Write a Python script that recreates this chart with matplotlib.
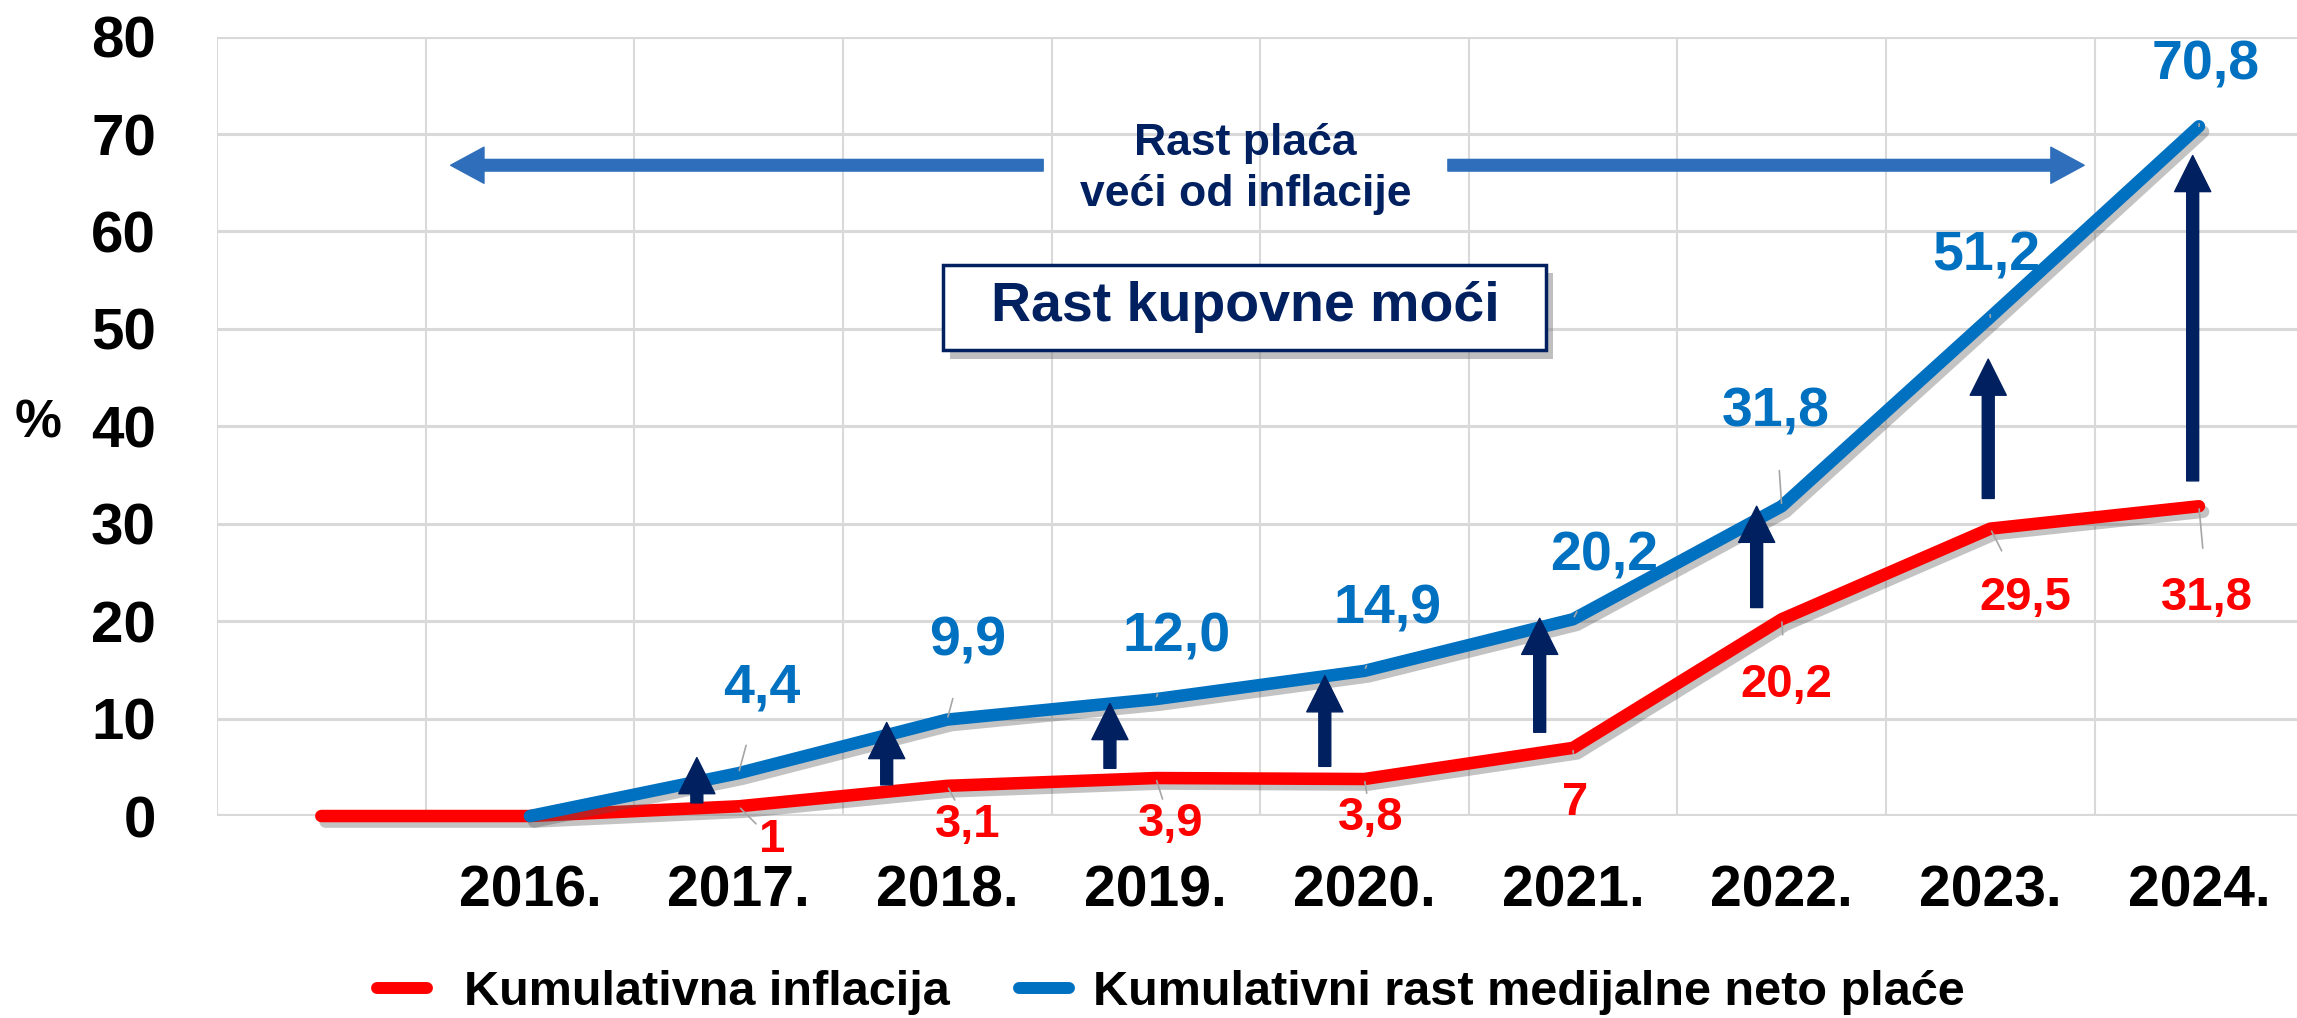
import numpy as np
import matplotlib
matplotlib.use('Agg')
import matplotlib.pyplot as plt
from matplotlib import font_manager
from matplotlib.lines import Line2D
from matplotlib.patches import Rectangle
import matplotlib.patheffects as pe

# pick a condensed bold font if we have one
names = {f.name for f in font_manager.fontManager.ttflist}
FONT = 'Liberation Sans Narrow' if 'Liberation Sans Narrow' in names else 'Liberation Sans'
plt.rcParams['font.family'] = [FONT, 'DejaVu Sans']
plt.rcParams['font.weight'] = 'bold'

# podaci
categories = ['', '2016.', '2017.', '2018.', '2019.', '2020.', '2021.', '2022.', '2023.', '2024.']
inflation = [0, 0, 1, 3.1, 3.9, 3.8, 7, 20.2, 29.5, 31.8]
wages = [np.nan, 0, 4.4, 9.9, 12.0, 14.9, 20.2, 31.8, 51.2, 70.8]
series_names = ['Kumulativna inflacija', 'Kumulativni rast medijalne neto plaće']

RED = '#FF0000'
BLUE = '#0070C0'
NAVY = '#002060'
GRID = '#D9D9D9'

# label placement (category units, value units)
wage_lbl_pos = {2: (2.11, 13.1), 3: (3.10, 17.9), 4: (4.10, 18.3), 5: (5.11, 21.2),
                6: (6.15, 26.6), 7: (6.97, 41.4), 8: (7.98, 57.4), 9: (9.03, 77.0)}
infl_lbl_pos = {2: (2.16, -2.45), 3: (3.10, -0.9), 4: (4.07, -0.8), 5: (5.03, -0.2),
                6: (6.01, 1.35), 7: (7.02, 13.5), 8: (8.17, 22.4), 9: (9.04, 22.4)}
# purchasing power arrows: x, from, to
up_arrows = [(1.80, 1.35, 6.0), (2.71, 3.2, 9.6), (3.78, 4.9, 11.55), (4.81, 5.1, 14.4),
             (5.84, 8.6, 20.3), (6.88, 21.4, 31.8), (7.99, 32.6, 46.9), (8.97, 34.4, 67.8)]

fig = plt.figure(figsize=(22.97, 10.18), dpi=100)
ax = fig.add_axes([217 / 2297, 0.1984, 1 - 217 / 2297, 0.964 - 0.1984])
x = np.arange(len(categories))

ax.set_xlim(-0.5, 9.47)
ax.set_ylim(0, 80)
ax.set_yticks(range(0, 81, 10))
ax.set_xticks(x)
ax.set_xticklabels(categories)
ax.set_xticks(np.arange(-0.5, 9.5, 1), minor=True)
ax.tick_params(axis='both', which='both', length=0)
ax.tick_params(axis='y', labelsize=42, pad=44)
ax.tick_params(axis='x', labelsize=41, pad=35)
ax.grid(axis='y', which='major', color=GRID, lw=2.2, zorder=0)
ax.grid(axis='x', which='minor', color=GRID, lw=1.5, zorder=0)
for s in ax.spines.values():
    s.set_visible(False)
ax.axhline(0, color=GRID, lw=3, zorder=1)

shadow = [pe.SimpleLineShadow(offset=(3, -4), shadow_color='#555555', alpha=0.35), pe.Normal()]
ax.plot(x, inflation, color=RED, lw=9, solid_joinstyle='round', solid_capstyle='round',
        path_effects=shadow, clip_on=False, zorder=4)
ax.plot(x, wages, color=BLUE, lw=9, solid_joinstyle='round', solid_capstyle='round',
        path_effects=shadow, clip_on=False, zorder=5)

# data labels with leader lines
for i, (lx, ly) in wage_lbl_pos.items():
    ax.annotate(str(wages[i]).replace('.', ','), xy=(x[i], wages[i]), xytext=(lx, ly),
                ha='center', va='center', color=BLUE, fontsize=40, fontweight='bold',
                arrowprops=dict(arrowstyle='-', color='#A6A6A6', lw=1.2, shrinkA=21, shrinkB=2),
                zorder=6, annotation_clip=False)
for i, (lx, ly) in infl_lbl_pos.items():
    ax.annotate(str(inflation[i]).replace('.', ','), xy=(x[i], inflation[i]), xytext=(lx, ly),
                ha='center', va='center', color=RED, fontsize=34, fontweight='bold',
                arrowprops=dict(arrowstyle='-', color='#A6A6A6', lw=1.2, shrinkA=18, shrinkB=2),
                zorder=6, annotation_clip=False)

# navy arrows
for ax_x, y0, y1 in up_arrows:
    ax.annotate('', xy=(ax_x, y1), xytext=(ax_x, y0),
                arrowprops=dict(arrowstyle='simple,head_length=1.3,head_width=1.3,tail_width=0.43',
                                color=NAVY, shrinkA=0, shrinkB=0, mutation_scale=20), zorder=7)

# big horizontal arrow
HARROW = '#2F6EBA'
ax.annotate('', xy=(0.62, 66.8), xytext=(3.46, 66.8),
            arrowprops=dict(arrowstyle='simple,head_length=1.2,head_width=1.3,tail_width=0.42',
                            color=HARROW, shrinkA=0, shrinkB=0, mutation_scale=20), zorder=3)
ax.annotate('', xy=(8.45, 66.8), xytext=(5.40, 66.8),
            arrowprops=dict(arrowstyle='simple,head_length=1.2,head_width=1.3,tail_width=0.42',
                            color=HARROW, shrinkA=0, shrinkB=0, mutation_scale=20), zorder=3)
ax.text(4.43, 66.4, 'Rast plaća\nveći od inflacije', ha='center', va='center', color=NAVY,
        fontsize=32, fontweight='bold', linespacing=1.3, zorder=6)

box = Rectangle((2.98, 47.8), 2.89, 8.8, facecolor='white', edgecolor=NAVY, lw=2.5, zorder=6,
                path_effects=[pe.SimplePatchShadow(offset=(5, -6), shadow_rgbFace='#808080', alpha=0.5),
                              pe.Normal()])
ax.add_patch(box)
ax.text(4.43, 52.2, 'Rast kupovne moći', ha='center', va='center', color=NAVY,
        fontsize=40, fontweight='bold', zorder=7)

fig.text(38 / 2297, 1 - 424 / 1018, '%', ha='center', va='center', fontsize=38, fontweight='bold')

# legend: two entries placed side by side
for name, color, x0, pad in [(series_names[0], RED, 377 / 2297, 0.75),
                             (series_names[1], BLUE, 1019 / 2297, 0.5)]:
    h = Line2D([], [], color=color, lw=8.6, solid_capstyle='round')
    leg = fig.legend([h], [name], loc='center left', bbox_to_anchor=(x0, 0.0255),
                     frameon=False, prop={'size': 35, 'weight': 'bold'}, handlelength=1.03,
                     handletextpad=pad, borderpad=0, borderaxespad=0)

fig.savefig('out.png', dpi=100)
